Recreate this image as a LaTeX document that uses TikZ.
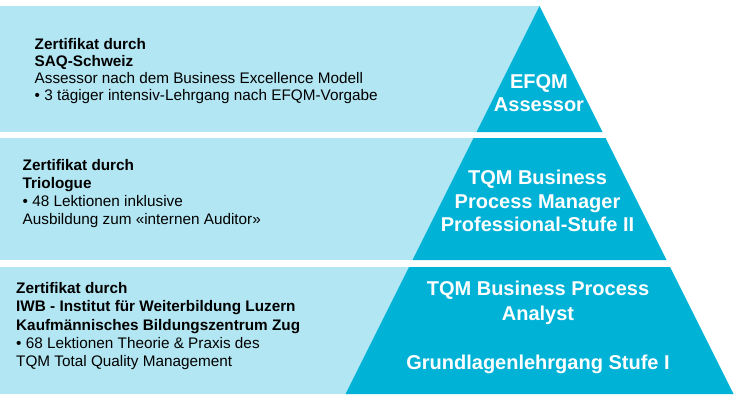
\documentclass[tikz,border=0pt]{standalone}
\usepackage{fontspec}
\setmainfont{Liberation Sans}
\definecolor{lightband}{RGB}{178,230,242}
\definecolor{darkband}{RGB}{0,178,214}
\begin{document}
\begin{tikzpicture}[x=1pt,y=-1pt,
  lightfill/.style={fill=lightband,draw=none},
  darkfill/.style={fill=darkband,draw=none},
  lefttext/.style={anchor=base west,inner sep=0pt,align=left,text=black},
  levellabel/.style={anchor=base,inner sep=0pt,align=center,text=white,font=\fontsize{20}{23.7}\selectfont\bfseries}]
\useasboundingbox (0,0) rectangle (750,405);
% band 1
\fill[lightfill] (0,6) rectangle (539.5,132);
\fill[darkfill] (539.5,6) -- (602.5,132) -- (476.5,132) -- cycle;
% band 2
\fill[lightfill] (0,138) rectangle (539.5,260);
\fill[darkfill] (473.5,138) -- (605.5,138) -- (666.5,260) -- (412.5,260) -- cycle;
% band 3
\fill[lightfill] (0,267) rectangle (539.5,394);
\fill[darkfill] (409,267) -- (670,267) -- (733.5,394) -- (345.5,394) -- cycle;
% left texts (anchor = baseline of last line)
\node[lefttext,font=\fontsize{15.3}{17.1}\selectfont] (t1) at (34.5,100.3)
  {\textbf{Zertifikat durch}\\\textbf{SAQ-Schweiz}\\Assessor nach dem Business Excellence Modell\\• 3 tägiger intensiv-Lehrgang nach EFQM-Vorgabe};
\node[lefttext,font=\fontsize{15.3}{18}\selectfont] (t2) at (22.5,224)
  {\textbf{Zertifikat durch}\\\textbf{Triologue}\\• 48 Lektionen inklusive\\Ausbildung zum «internen Auditor»};
\node[lefttext,font=\fontsize{15.3}{18.4}\selectfont] (t3) at (16,366.9)
  {\textbf{Zertifikat durch}\\\textbf{IWB - Institut für Weiterbildung Luzern}\\\textbf{Kaufmännisches Bildungszentrum Zug}\\• 68 Lektionen Theorie \& Praxis des\\TQM Total Quality Management};
% level labels
\node[levellabel] (l1) at (539,111.7) {EFQM\\Assessor};
\node[levellabel] (l2) at (537.5,231.7) {TQM Business\\Process Manager\\Professional-Stufe II};
\node[levellabel,font=\fontsize{20}{24.6}\selectfont\bfseries] (l3) at (538,369.2) {TQM Business Process\\Analyst\\[24.3pt]Grundlagenlehrgang Stufe I};
\end{tikzpicture}
\end{document}
